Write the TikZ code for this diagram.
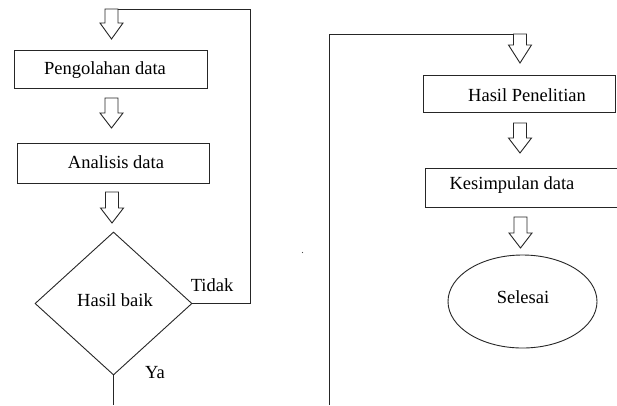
\documentclass[tikz,border=0pt]{standalone}
\usepackage{fontspec}
\setmainfont{Liberation Serif}
\usetikzlibrary{shapes.geometric}
\tikzset{
  line/.style={draw=black!85, line width=0.9pt},
  box/.style={line, rectangle, inner sep=0pt},
  lbl/.style={font=\fontsize{18.5}{20}\selectfont, inner sep=0pt, text=black},
  % hollow block arrow pointing down: shaft length #1, head length #2
  pics/hollowdown/.style 2 args={code={
    \draw[line, line join=miter, fill=white]
      (-6.5,0) -- (6.5,0) -- (6.5,#1) -- (11.5,#1) -- (0,{#1+#2})
      -- (-11.5,#1) -- (-6.5,#1) -- cycle;
  }}
}
\begin{document}
\begin{tikzpicture}[x=1pt,y=-1pt]
\fill[white] (0,0) rectangle (617,405);
\useasboundingbox (0,0) rectangle (617,405);

% left column
\node[box, minimum width=193pt, minimum height=38pt] (peng) at (110.5,69) {};
\node[lbl] (pengt) at (105,70) {Pengolahan data};
\node[box, minimum width=192pt, minimum height=40pt] (anal) at (113,163) {};
\node[lbl] (analt) at (116,162) {Analisis data};
\node[line, diamond, inner sep=0pt, minimum width=157pt, minimum height=143pt] (dec) at (113.5,303.5) {};
\node[lbl] (dect) at (115,300) {Hasil baik};
\node[lbl] (tidak) at (212,285) {Tidak};
\node[lbl] (ya) at (155,373) {Ya};

\pic at (111.5,9) {hollowdown={14}{16}};
\pic at (111.5,98) {hollowdown={15}{15}};
\pic at (112,192) {hollowdown={16}{15}};

% feedback loop and exit
\coordinate (fbtop) at (118,9);
\coordinate (turn) at (250,9);
\coordinate (yaend) at (113.5,405);
\draw[line] (dec.east) -| (turn) -- (fbtop);
\draw[line] (dec.south) -- (yaend);

% right column
\coordinate (rbot) at (329,405);
\coordinate (rtop) at (513.5,34);
\draw[line] (rbot) |- (rtop);

\node[box, minimum width=192pt, minimum height=37pt] (hasil) at (519,93.5) {};
\node[lbl] (hasilt) at (527,95) {Hasil Penelitian};
\node[box, minimum width=192pt, minimum height=39pt] (kesim) at (521,187.5) {};
\node[lbl] (kesimt) at (512,185) {Kesimpulan data};
\node[line, ellipse, inner sep=0pt, minimum width=149pt, minimum height=93pt] (end) at (522.5,301.5) {};
\node[lbl] (endt) at (523,297) {Selesai};

\pic at (520,34) {hollowdown={11}{18}};
\pic at (520,123) {hollowdown={15}{15}};
\pic at (520.5,217) {hollowdown={16}{15}};

\fill[black!70] (302.5,252.5) circle (0.7pt);
\end{tikzpicture}
\end{document}
